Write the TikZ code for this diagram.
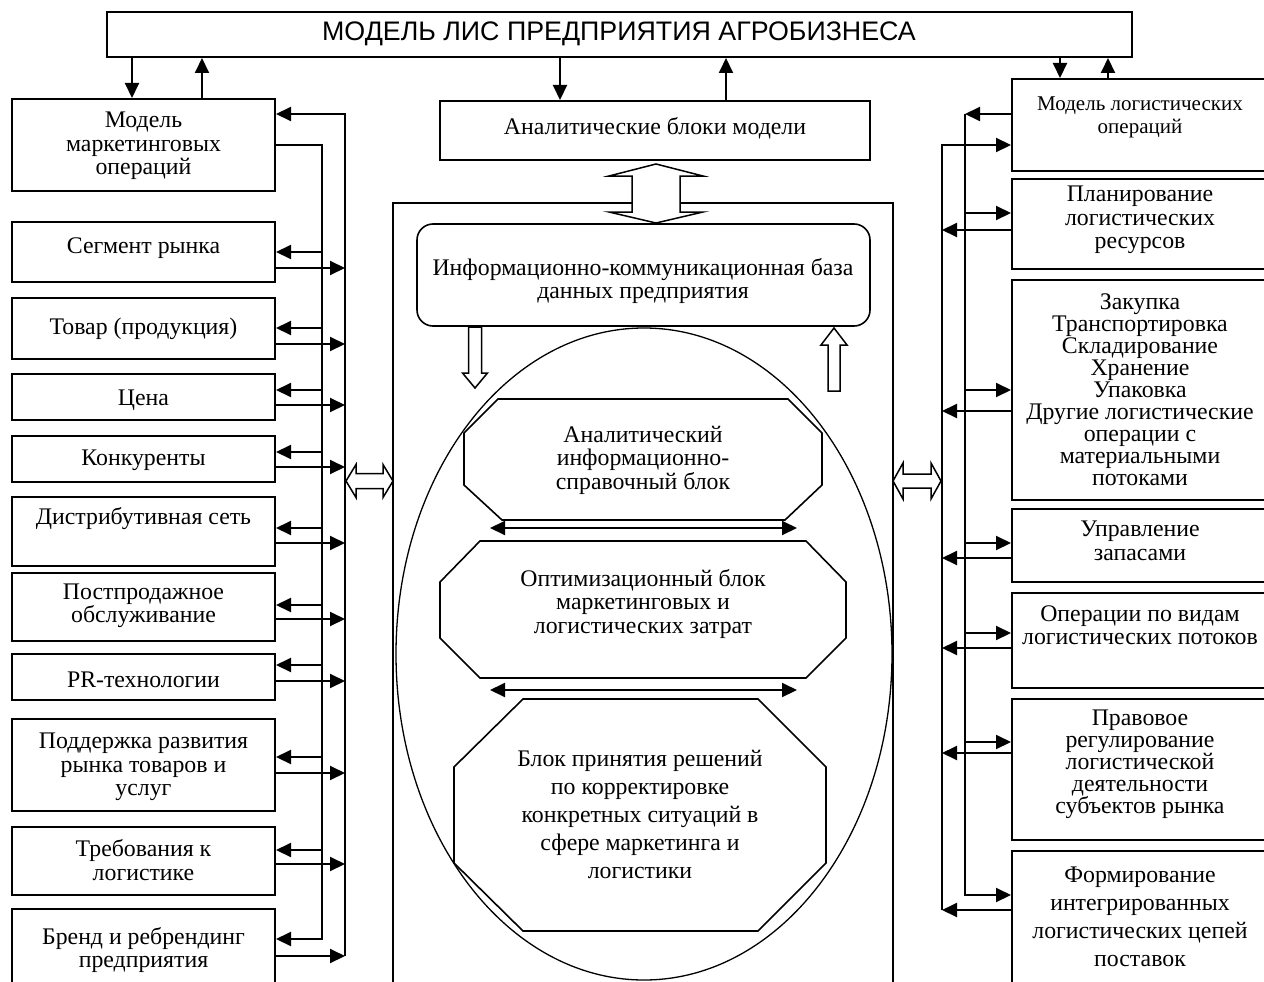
\documentclass[tikz,border=0pt]{standalone}
\usepackage{fontspec}
\setmainfont{Liberation Serif}
\newfontfamily\arialf{Liberation Sans}
\usetikzlibrary{arrows.meta,fit,shapes.geometric}
\begin{document}
\begin{tikzpicture}[x=1pt,y=-1pt,
 bx/.style={draw, line width=2pt, inner sep=0pt},
 txt/.style={align=center, inner sep=0pt, font=\fontsize{23.8}{23.5}\selectfont},
 txtb/.style={align=center, inner sep=0pt, font=\fontsize{23.8}{28}\selectfont},
 arr/.style={line width=2pt, -{Triangle[length=15pt,width=14pt]}},
 darr/.style={line width=2pt, {Triangle[length=15pt,width=14pt]}-{Triangle[length=15pt,width=14pt]}},
 hol/.style={draw, fill=white, line width=1.5pt, line join=miter},
 oct/.style={draw, line width=1.6pt}]
\useasboundingbox (0,0) rectangle (1264,982);
\begin{scope}
\clip (0,0) rectangle (1264,982);
% title
\node[bx, fit={(107,12) (1132,57)}] (T) {};
\node[inner sep=0pt, font=\arialf\fontsize{26.8}{26.8}\selectfont] (Tt) at (619,34) {МОДЕЛЬ ЛИС ПРЕДПРИЯТИЯ АГРОБИЗНЕСА};
% left boxes
\node[bx, fit={(12,99) (275,191)}] (L1) {};
\node[bx, fit={(12,222) (275,282)}] (L2) {};
\node[bx, fit={(12,298) (275,359)}] (L3) {};
\node[bx, fit={(12,374) (275,420)}] (L4) {};
\node[bx, fit={(12,436) (275,482)}] (L5) {};
\node[bx, fit={(12,497) (275,566)}] (L6) {};
\node[bx, fit={(12,573) (275,641)}] (L7) {};
\node[bx, fit={(12,654) (275,700)}] (L8) {};
\node[bx, fit={(12,719) (275,811)}] (L9) {};
\node[bx, fit={(12,827) (275,895)}] (L10) {};
\node[bx, fit={(12,909) (275,1010)}] (L11) {};
\node[txt] (L1t) at (143.5,146) {Модель\\маркетинговых\\операций};
\node[txt] (L2t) at (143.5,248) {Сегмент рынка};
\node[txt] (L3t) at (143.5,329) {Товар (продукция)};
\node[txt] (L4t) at (143.5,400) {Цена};
\node[txt] (L5t) at (143.5,460) {Конкуренты};
\node[txt] (L6t) at (143.5,519) {Дистрибутивная сеть};
\node[txt] (L7t) at (143.5,606) {Постпродажное\\обслуживание};
\node[txt] (L8t) at (143.5,680) {PR-технологии};
\node[txt] (L9t) at (143.5,767) {Поддержка развития\\рынка товаров и\\услуг};
\node[txt] (L10t) at (143.5,860) {Требования к\\логистике};
\node[txt] (L11t) at (143.5,950) {Бренд и ребрендинг\\предприятия};
% right boxes
\node[bx, fit={(1012,79) (1268,171)}] (R1) {};
\node[bx, fit={(1012,179) (1268,269)}] (R2) {};
\node[bx, fit={(1012,280) (1268,500)}] (R3) {};
\node[bx, fit={(1012,509) (1268,582)}] (R4) {};
\node[bx, fit={(1012,593) (1268,688)}] (R5) {};
\node[bx, fit={(1012,699) (1268,840)}] (R6) {};
\node[bx, fit={(1012,851) (1268,1010)}] (R7) {};
\node[align=center, inner sep=0pt, font=\fontsize{21}{23}\selectfont] (R1t) at (1140,117) {Модель логистических\\операций};
\node[txt] (R2t) at (1140,220) {Планирование\\логистических\\ресурсов};
\node[align=center, inner sep=0pt, font=\fontsize{23.8}{22}\selectfont] (R3t) at (1140,390) {Закупка\\Транспортировка\\Складирование\\Хранение\\Упаковка\\Другие логистические\\операции с\\материальными\\потоками};
\node[txt] (R4t) at (1140,541) {Управление\\запасами};
\node[txt] (R5t) at (1140,625) {Операции по видам\\логистических потоков};
\node[align=center, inner sep=0pt, font=\fontsize{23.8}{22}\selectfont] (R6t) at (1140,764) {Правовое\\регулирование\\логистической\\деятельности\\субъектов рынка};
\node[txtb] (R7t) at (1140,917) {Формирование\\интегрированных\\логистических цепей\\поставок};
% centre
\node[bx, fit={(440,101) (870,160)}] (A) {};
\node[txt] (At) at (655,128) {Аналитические блоки модели};
\node[draw, line width=1.5pt, inner sep=0pt, fit={(393,203) (893,1010)}] (C) {};
\node[draw, ellipse, line width=1.3pt, minimum width=496pt, minimum height=652pt, inner sep=0pt] (E) at (644,654) {};
\node[draw, line width=1.6pt, rounded corners=16pt, inner sep=0pt, fit={(417,224) (870,326)}] (DB) {};
\node[txt] (DBt) at (643,281) {Информационно-коммуникационная база\\данных предприятия};
\draw[oct] (498,399) -- (788,399) -- (822,433) -- (822,485) -- (785,520) -- (502,520) -- (464,485) -- (464,433) -- cycle;
\draw[oct] (480,541) -- (806,541) -- (846,582) -- (846,638) -- (806,678) -- (480,678) -- (440,638) -- (440,582) -- cycle;
\draw[oct] (523,699) -- (758,699) -- (826,767) -- (826,863) -- (758,931) -- (523,931) -- (454,863) -- (454,767) -- cycle;
\node[txt] (O1t) at (643,460) {Аналитический\\информационно-\\справочный блок};
\node[txt] (O2t) at (643,604) {Оптимизационный блок\\маркетинговых и\\логистических затрат};
\node[txtb] (O3t) at (640,814) {Блок принятия решений\\по корректировке\\конкретных ситуаций в\\сфере маркетинга и\\логистики};
\coordinate (d1a) at (490,528); \coordinate (d1b) at (797,528);
\coordinate (d2a) at (490,690); \coordinate (d2b) at (797,690);
\draw[darr] (d1a) -- (d1b);
\draw[darr] (d2a) -- (d2b);
% hollow arrows
\draw[hol] (468.5,327) -- (481.5,327) -- (481.5,373) -- (487.5,373) -- (475,388) -- (462.5,373) -- (468.5,373) -- cycle;
\draw[hol] (828,391) -- (840,391) -- (840,345) -- (847,345) -- (834,328) -- (821,345) -- (828,345) -- cycle;
\draw[hol] (656,164) -- (703,176) -- (680,176) -- (680,212) -- (703,212) -- (656,223) -- (609,212) -- (632,212) -- (632,176) -- (609,176) -- cycle;
\draw[hol] (346,481) -- (356,464.5) -- (356,473.5) -- (383,473.5) -- (383,464.5) -- (393,481) -- (383,497.5) -- (383,488.5) -- (356,488.5) -- (356,497.5) -- cycle;
\draw[hol] (893,481) -- (903,463) -- (903,474) -- (931,474) -- (931,463) -- (941,481) -- (931,499) -- (931,488) -- (903,488) -- (903,499) -- cycle;
% top arrows
\draw[arr] (T.south -| 132,0) -- (L1.north -| 132,0);
\draw[arr] (L1.north -| 202,0) -- (T.south -| 202,0);
\draw[arr] (T.south -| 560,0) -- (A.north -| 560,0);
\draw[arr] (A.north -| 726,0) -- (T.south -| 726,0);
\draw[arr] (T.south -| 1060,0) -- (R1.north -| 1060,0);
\draw[arr] (R1.north -| 1108,0) -- (T.south -| 1108,0);
% left buses
\draw[arr] (L1.east |- 0,145) -- (322,145) -- (322,939) -- (L11.east |- 0,939);
\draw[arr] (345,956) -- (345,114) -- (L1.east |- 0,114);
\draw[arr] (L11.east |- 0,956) -- (345,956);
\foreach \n/\yi/\yo in {L2/252/268, L3/328/344, L4/390/405, L5/452/467, L6/528/543, L7/605/619, L8/665/681, L9/757/773, L10/850/864}{
  \draw[arr] (322,\yi) -- (\n.east |- 0,\yi);
  \draw[arr] (\n.east |- 0,\yo) -- (345,\yo);
}
% right buses
\draw[arr] (R1.west |- 0,114) -- (965,114);
\draw[arr] (965,114) -- (965,895) -- (R7.west |- 0,895);
\draw[arr] (942,910) -- (942,145) -- (R1.west |- 0,145);
\draw[arr] (R7.west |- 0,910) -- (942,910);
\foreach \n/\yi/\yo in {R2/213/230, R3/390/411, R4/543/558, R5/633/648, R6/742/753}{
  \draw[arr] (965,\yi) -- (\n.west |- 0,\yi);
  \draw[arr] (\n.west |- 0,\yo) -- (942,\yo);
}
\end{scope}
\end{tikzpicture}
\end{document}
